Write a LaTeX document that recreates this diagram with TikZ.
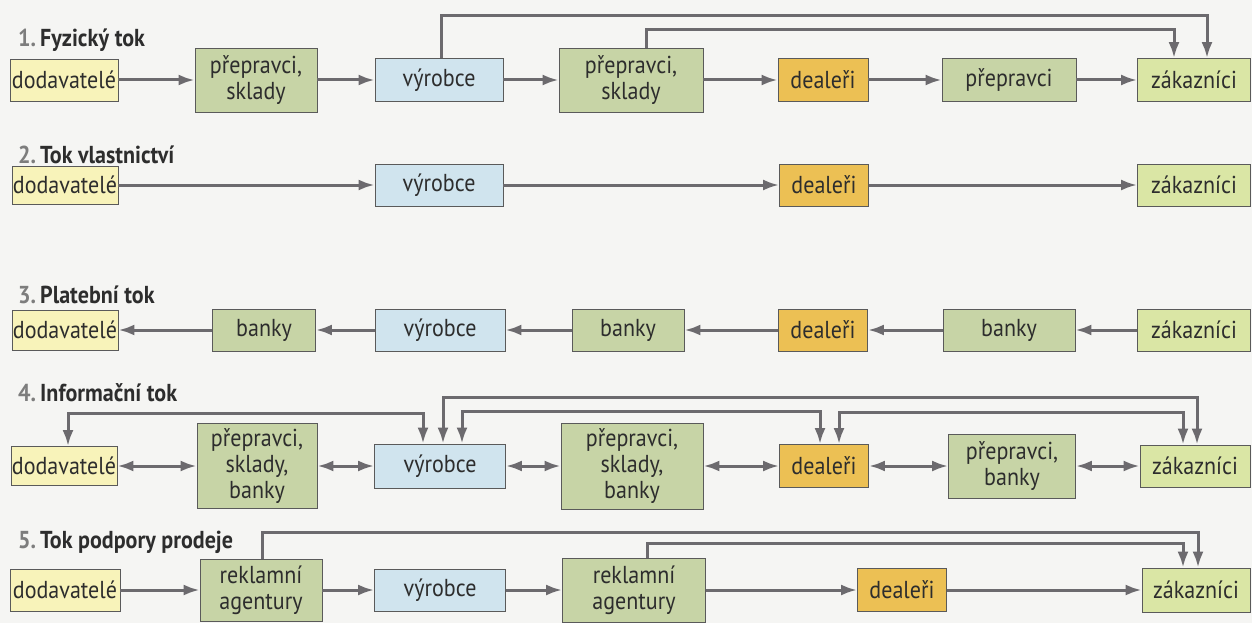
\documentclass[tikz,border=0pt]{standalone}
\usepackage{fontspec}
\setmainfont{PT Sans}[FakeStretch=0.9]
\usetikzlibrary{positioning,arrows.meta}
\definecolor{paper}{RGB}{245,245,243}
\definecolor{txtgrey}{RGB}{45,45,45}
\definecolor{numgrey}{RGB}{125,125,125}
\definecolor{edgegrey}{RGB}{90,90,90}
\definecolor{arrowgrey}{RGB}{108,106,110}
\definecolor{supfill}{RGB}{248,243,186}
\definecolor{midfill}{RGB}{199,212,166}
\definecolor{makerfill}{RGB}{208,228,238}
\definecolor{dealerfill}{RGB}{236,192,84}
\definecolor{custfill}{RGB}{218,230,165}
\tikzset{
    channel/.style={
        x=1pt, y=-1pt,
        font=\fontsize{24.5}{26}\selectfont,
        % Stile comune dei riquadri
        stage/.style={draw=edgegrey, line width=0.8pt, align=center,
                      text=txtgrey, inner sep=0pt, minimum height=42pt},
        supplier/.style={stage, fill=supfill},
        middleman/.style={stage, fill=midfill},
        maker/.style={stage, fill=makerfill},
        dealer/.style={stage, fill=dealerfill},
        customer/.style={stage, fill=custfill},
        % Titoli delle righe
        rowtitle/.style={anchor=west, inner sep=0pt, text=txtgrey,
                         font=\fontsize{24.5}{26}\selectfont\bfseries},
        % Frecce
        flow/.style={draw=arrowgrey, line width=3pt,
                     -{Latex[length=16pt,width=11pt]}},
        twoway/.style={draw=arrowgrey, line width=3pt,
                       {Latex[length=16pt,width=11pt]}-{Latex[length=16pt,width=11pt]}}
    }
}
\begin{document}
\begin{tikzpicture}[channel]
  \fill[paper] (0,0) rectangle (1252,623);
  \useasboundingbox (0,0) rectangle (1252,623);

  % 1. Fyzicky tok
  \node[rowtitle] (t1) at (18,40) {{\color{numgrey}1.}\,Fyzický tok};
  \node[supplier, minimum width=108pt] (d1) at (64,80) {dodavatelé};
  \node[middleman, minimum width=122pt, minimum height=64pt] (p1) at (256,80) {přepravci,\\sklady};
  \node[maker, minimum width=128pt, minimum height=43pt] (v1) at (439,80) {výrobce};
  \node[middleman, minimum width=144pt, minimum height=64pt] (p2) at (631,80) {přepravci,\\sklady};
  \node[dealer, minimum width=90pt, minimum height=43pt] (de1) at (823,80) {dealeři};
  \node[middleman, minimum width=134pt, minimum height=43pt] (pr1) at (1009,80) {přepravci};
  \node[customer, minimum width=113pt, minimum height=43pt] (z1) at (1194,80) {zákazníci};

  \draw[flow] (d1) -- (p1);
  \draw[flow] (p1) -- (v1);
  \draw[flow] (v1) -- (p2);
  \draw[flow] (p2) -- (de1);
  \draw[flow] (de1) -- (pr1);
  \draw[flow] (pr1) -- (z1);
  \draw[flow] ([xshift=2pt]v1.north) -- ++(0,-43) -| ([xshift=13pt]z1.north);
  \draw[flow] ([xshift=15pt]p2.north) -- ++(0,-18) -| ([xshift=-20pt]z1.north);

  % 2. Tok vlastnictvi
  \node[rowtitle] (t2) at (18,155) {{\color{numgrey}2.}\,Tok vlastnictví};
  \node[supplier, minimum width=106pt, minimum height=38pt] (d2) at (65,185) {dodavatelé};
  \node[maker, minimum width=128pt] (v2) at (439,185) {výrobce};
  \node[dealer, minimum width=89pt] (de2) at (824,185) {dealeři};
  \node[customer, minimum width=113pt] (z2) at (1194,185) {zákazníci};

  \draw[flow] (d2) -- (v2);
  \draw[flow] (v2) -- (de2);
  \draw[flow] (de2) -- (z2);

  % 3. Platebni tok
  \node[rowtitle] (t3) at (18,295) {{\color{numgrey}3.}\,Platební tok};
  \node[supplier, minimum width=106pt, minimum height=40pt] (d3) at (65,330) {dodavatelé};
  \node[middleman, minimum width=103pt] (b1) at (264,330) {banky};
  \node[maker, minimum width=130pt] (v3) at (440,330) {výrobce};
  \node[middleman, minimum width=112pt] (b2) at (628,330) {banky};
  \node[dealer, minimum width=89pt] (de3) at (823,330) {dealeři};
  \node[middleman, minimum width=132pt] (b3) at (1009,330) {banky};
  \node[customer, minimum width=113pt] (z3) at (1194,330) {zákazníci};

  \draw[flow] (z3) -- (b3);
  \draw[flow] (b3) -- (de3);
  \draw[flow] (de3) -- (b2);
  \draw[flow] (b2) -- (v3);
  \draw[flow] (v3) -- (b1);
  \draw[flow] (b1) -- (d3);

  % 4. Informacni tok
  \node[rowtitle] (t4) at (18,393) {{\color{numgrey}4.}\,Informační tok};
  \node[supplier, minimum width=106pt, minimum height=39pt] (d4) at (64,466) {dodavatelé};
  \node[middleman, minimum width=120pt, minimum height=85pt] (ps1) at (257,466) {přepravci,\\sklady,\\banky};
  \node[maker, minimum width=131pt, minimum height=44pt] (v4) at (440,466) {výrobce};
  \node[middleman, minimum width=142pt, minimum height=86pt] (ps2) at (632,466) {přepravci,\\sklady,\\banky};
  \node[dealer, minimum width=89pt, minimum height=43pt] (de4) at (824,466) {dealeři};
  \node[middleman, minimum width=127pt, minimum height=64pt] (pb) at (1012,466) {přepravci,\\banky};
  \node[customer, minimum width=110pt] (z4) at (1195,466) {zákazníci};

  \draw[twoway] (d4) -- (ps1);
  \draw[twoway] (ps1) -- (v4);
  \draw[twoway] (v4) -- (ps2);
  \draw[twoway] (ps2) -- (de4);
  \draw[twoway] (de4) -- (pb);
  \draw[twoway] (pb) -- (z4);
  \draw[twoway] ([xshift=4pt]d4.north) -- ++(0,-33) -| ([xshift=-17pt]v4.north);
  \draw[twoway] ([xshift=3pt]v4.north) -- ++(0,-46) -| ([xshift=2pt]z4.north);
  \draw[twoway] ([xshift=22pt]v4.north) -- ++(0,-32) -| ([xshift=-4pt]de4.north);
  \draw[twoway] ([xshift=15pt]de4.north) -- ++(0,-32) -| ([xshift=-12pt]z4.north);

  % 5. Tok podpory prodeje
  \node[rowtitle] (t5) at (18,542) {{\color{numgrey}5.}\,Tok podpory prodeje};
  \node[supplier, minimum width=110pt] (d5) at (65,590) {dodavatelé};
  \node[middleman, minimum width=122pt, minimum height=62pt] (ra1) at (261,590) {reklamní\\agentury};
  \node[maker, minimum width=131pt] (v5) at (440,590) {výrobce};
  \node[middleman, minimum width=143pt, minimum height=64pt] (ra2) at (634,590) {reklamní\\agentury};
  \node[dealer, minimum width=89pt, minimum height=43pt] (de5) at (902,590) {dealeři};
  \node[customer, minimum width=108pt, minimum height=44pt] (z5) at (1196,590) {zákazníci};

  \draw[flow] (d5) -- (ra1);
  \draw[flow] (ra1) -- (v5);
  \draw[flow] (v5) -- (ra2);
  \draw[flow] (ra2) -- (de5);
  \draw[flow] (de5) -- (z5);
  \draw[flow] ([xshift=1pt]ra1.north) -- ++(0,-26) -| ([xshift=2pt]z5.north);
  \draw[flow] ([xshift=13pt]ra2.north) -- ++(0,-14) -| ([xshift=-13pt]z5.north);
\end{tikzpicture}
\end{document}
